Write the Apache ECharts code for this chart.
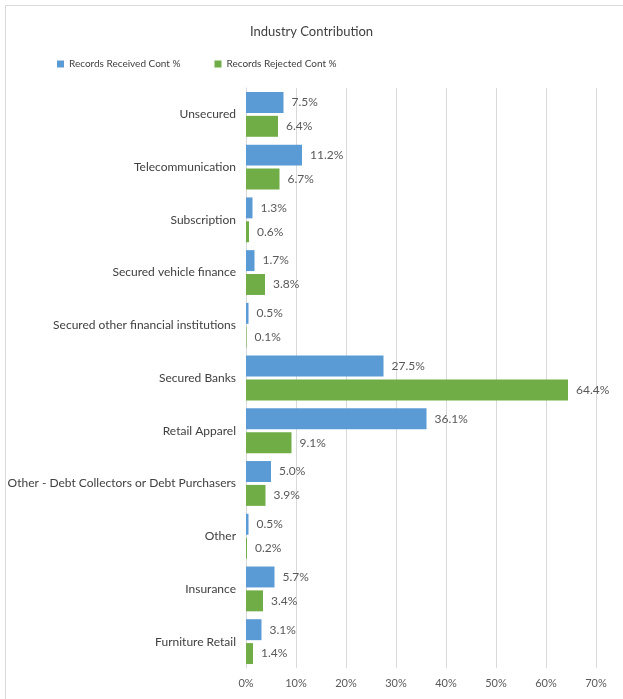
<!DOCTYPE html>
<html><head><meta charset="utf-8">
<script src="https://cdn.jsdelivr.net/npm/echarts@6/dist/echarts.min.js"></script>
<style>html,body{margin:0;padding:0;background:#fff}#c{width:623px;height:699px}</style>
</head><body><div id="c"></div>
<script>
const categories = ["Unsecured","Telecommunication","Subscription","Secured vehicle finance","Secured other financial institutions","Secured Banks","Retail Apparel","Other - Debt Collectors or Debt Purchasers","Other","Insurance","Furniture Retail"];
const received = [7.5,11.2,1.3,1.7,0.5,27.5,36.1,5.0,0.5,5.7,3.1];
const rejected = [6.4,6.7,0.6,3.8,0.1,64.4,9.1,3.9,0.2,3.4,1.4];
const xTicks = [0,10,20,30,40,50,60,70];
const font = 'Lato, "Open Sans", sans-serif';
const chart = echarts.init(document.getElementById('c'));
const lbl = {show:true,position:'right',distance:8,color:'#595959',fontSize:12,fontFamily:font,formatter:p=>p.value.toFixed(1)+'%'};
chart.setOption({
  animation:false,
  graphic:[{type:'rect',shape:{x:5.5,y:5.5,width:700,height:800},style:{fill:'none',stroke:'#d9d9d9',lineWidth:1}}],
  title:{text:'Industry Contribution',left:'center',top:20,textStyle:{fontFamily:font,fontWeight:'normal',fontSize:13,color:'#404040'}},
  legend:{left:52,top:54,itemWidth:7,itemHeight:7,itemGap:34,icon:'rect',textStyle:{fontFamily:font,fontSize:10,color:'#404040'}},
  grid:{left:246,right:27,top:88,bottom:31},
  xAxis:{type:'value',min:xTicks[0],max:xTicks[xTicks.length-1],interval:10,
    axisLabel:{formatter:'{value}%',color:'#595959',fontSize:11,fontFamily:font,margin:10},
    splitLine:{lineStyle:{color:'#d9d9d9'}},axisLine:{show:false},axisTick:{show:false}},
  yAxis:{type:'category',data:categories,inverse:true,
    axisLabel:{color:'#404040',fontSize:12,fontFamily:font,margin:10},
    axisLine:{show:true,lineStyle:{color:'#d9d9d9'}},axisTick:{show:false}},
  series:[
    {name:'Records Received Cont %',type:'bar',data:received,itemStyle:{color:'#5B9BD5'},barGap:'14%',barCategoryGap:'15%',label:lbl},
    {name:'Records Rejected Cont %',type:'bar',data:rejected,itemStyle:{color:'#70AD47'},label:lbl}
  ]
});
</script></body></html>
